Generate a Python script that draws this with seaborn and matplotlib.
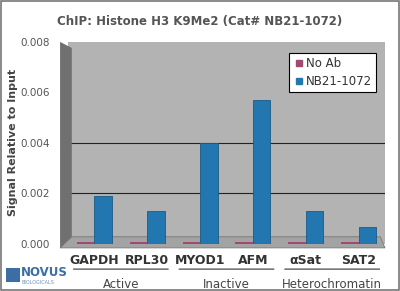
import matplotlib
matplotlib.use("Agg")
import matplotlib.pyplot as plt
import seaborn as sns
import pandas as pd
from matplotlib.patches import Polygon, Rectangle
from matplotlib.lines import Line2D

categories = ["GAPDH", "RPL30", "MYOD1", "AFM", "\u03b1Sat", "SAT2"]
groups = ["Active", "Inactive", "Heterochromatin"]
group_members = [2, 2, 2]
series_names = ["No Ab", "NB21-1072"]
no_ab = [0.00008, 0.00008, 0.00008, 0.00008, 0.00008, 0.00008]
nb21 = [0.00188, 0.0013, 0.0040, 0.0057, 0.0013, 0.00065]
y_ticks = [0.000, 0.002, 0.004, 0.006, 0.008]
grid_values = [0.002, 0.004]
title = "ChIP: Histone H3 K9Me2 (Cat# NB21-1072)"
ylabel = "Signal Relative to Input"

df = pd.DataFrame({
    "gene": categories * 2,
    "series": [series_names[0]] * len(categories) + [series_names[1]] * len(categories),
    "value": no_ab + nb21,
})

sns.set_theme(style="white")
plt.rcParams["font.family"] = ["DejaVu Sans"]

fig = plt.figure(figsize=(4.0, 2.91), dpi=100)
fig.patch.set_facecolor("white")
ax = fig.add_axes([0.17, 0.162, 0.7925, 0.694])
ax.set_facecolor("#b3b3b3")

palette = {"No Ab": "#a04a72", "NB21-1072": "#2277b0"}
sns.barplot(data=df, x="gene", y="value", hue="series", order=categories,
            hue_order=series_names, palette=palette, width=0.66, ax=ax,
            linewidth=0, saturation=1, legend=False)
for p in ax.patches:
    if p.get_height() > 0.0005:
        p.set_edgecolor("#1b5a86")
        p.set_linewidth(0.6)

ax.set_ylim(0, 0.008)
ax.set_xlim(-0.5, len(categories) - 0.5)
ax.set_yticks(y_ticks)
ax.set_yticklabels([f"{v:.3f}" for v in y_ticks], color="#555555", fontsize=7.5)
ax.tick_params(axis="y", length=0, pad=13)
ax.tick_params(axis="x", length=0, pad=7)
ax.set_xticks(range(len(categories)))
ax.set_xticklabels(categories, fontsize=9, fontweight="bold", color="#333333")
ax.set_xlabel("")
ax.set_ylabel(ylabel, fontsize=8, fontweight="bold", color="#444444", labelpad=2)
for v in grid_values:
    ax.axhline(v, color="#222222", linewidth=0.8, zorder=0.5)
for s in ax.spines.values():
    s.set_visible(False)

# 3D-look decorations: left wall and floor
ax.add_patch(Polygon([[-0.025, -0.02], [0.012, 0.0], [0.012, 0.97], [-0.025, 1.0]], closed=True,
                     transform=ax.transAxes, facecolor="#707070", edgecolor="none",
                     zorder=0.6, clip_on=False))
ax.add_patch(Polygon([[-0.025, -0.02], [1.0, -0.02], [0.985, 0.035], [0.012, 0.035]], closed=True,
                     transform=ax.transAxes, facecolor="#a3a3a3", edgecolor="#777777",
                     linewidth=0.6, zorder=0.6, clip_on=False))

fig.text(0.5, 0.925, title, fontsize=8.5, fontweight="bold", color="#555555",
         ha="center", va="center")

# legend
handles = [Line2D([0], [0], marker="s", linestyle="none", markersize=4,
                  markerfacecolor=palette[n], markeredgecolor=palette[n]) for n in series_names]
leg = ax.legend(handles, series_names, loc="upper right", bbox_to_anchor=(0.99, 0.975),
                fontsize=8.5, frameon=True, fancybox=False, handletextpad=0.1,
                borderpad=0.35, labelspacing=0.45, handlelength=1.0, framealpha=1)
leg.get_frame().set_edgecolor("black")
leg.get_frame().set_facecolor("white")
leg.get_frame().set_linewidth(0.8)
for t in leg.get_texts():
    t.set_color("#333333")

# group labels under the categories
start = 0
for g, n in zip(groups, group_members):
    x0 = start - 0.45
    x1 = start + n - 1 + 0.45
    ax.annotate("", xy=(x0, -0.125), xytext=(x1, -0.125),
                xycoords=("data", "axes fraction"), textcoords=("data", "axes fraction"),
                arrowprops=dict(arrowstyle="-", color="#333333", lw=0.8))
    ax.text((x0 + x1) / 2, -0.2, g, transform=ax.get_xaxis_transform(),
            ha="center", va="center", fontsize=8.5, color="#444444")
    start += n

# logo
fig.patches.append(Rectangle((0.015, 0.03), 0.035, 0.05, transform=fig.transFigure,
                             facecolor="#3a6ea5", edgecolor="none"))
fig.text(0.052, 0.065, "NOVUS", fontsize=8.5, fontweight="bold", color="#3a6ea5",
         ha="left", va="center")
fig.text(0.055, 0.028, "BIOLOGICALS", fontsize=3.5, color="#6a8fb8", ha="left", va="center")

# figure border
fig.patches.append(Rectangle((0.002, 0.003), 0.995, 0.993, transform=fig.transFigure,
                             fill=False, edgecolor="#777777", linewidth=1.2))

fig.savefig("out.png", dpi=100)
